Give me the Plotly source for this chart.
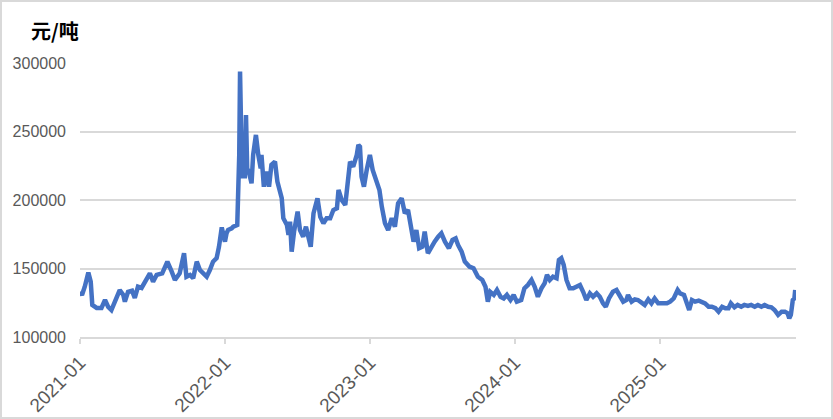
import plotly.graph_objects as go

dates = [
    "2021-01-01", "2021-01-06", "2021-01-13", "2021-01-22", "2021-01-28", "2021-02-01", "2021-02-12",
    "2021-02-24", "2021-03-05", "2021-03-13", "2021-03-21", "2021-03-30", "2021-04-11", "2021-04-20",
    "2021-04-24", "2021-05-02", "2021-05-12", "2021-05-19", "2021-05-27", "2021-06-05", "2021-06-13",
    "2021-06-26", "2021-07-04", "2021-07-13", "2021-07-27", "2021-08-09", "2021-08-20", "2021-08-28",
    "2021-09-09", "2021-09-20", "2021-09-26", "2021-10-05", "2021-10-13", "2021-10-22", "2021-10-30",
    "2021-11-07", "2021-11-16", "2021-11-24", "2021-12-02", "2021-12-11", "2021-12-17", "2021-12-24",
    "2021-12-28", "2022-01-01", "2022-01-05", "2022-01-09", "2022-01-18", "2022-01-22", "2022-02-01",
    "2022-02-06", "2022-02-08", "2022-02-10", "2022-02-13", "2022-02-16", "2022-02-20", "2022-02-23",
    "2022-02-26", "2022-03-03", "2022-03-09", "2022-03-13", "2022-03-20", "2022-03-26", "2022-04-01",
    "2022-04-03", "2022-04-09", "2022-04-16", "2022-04-22", "2022-04-28", "2022-05-07", "2022-05-13",
    "2022-05-20", "2022-05-24", "2022-05-28", "2022-06-06", "2022-06-10", "2022-06-14", "2022-06-18",
    "2022-06-24", "2022-07-03", "2022-07-09", "2022-07-17", "2022-07-24", "2022-07-30", "2022-08-05",
    "2022-08-12", "2022-08-22", "2022-08-29", "2022-09-06", "2022-09-14", "2022-09-23", "2022-10-01",
    "2022-10-10", "2022-10-14", "2022-10-22", "2022-10-31", "2022-11-08", "2022-11-12", "2022-11-20",
    "2022-11-29", "2022-12-03", "2022-12-07", "2022-12-11", "2022-12-17", "2022-12-24", "2023-01-01",
    "2023-01-08", "2023-01-16", "2023-01-25", "2023-01-31", "2023-02-08", "2023-02-16", "2023-02-25",
    "2023-03-05", "2023-03-13", "2023-03-22", "2023-03-30", "2023-04-07", "2023-04-16", "2023-04-21",
    "2023-04-28", "2023-05-05", "2023-05-13", "2023-05-19", "2023-05-27", "2023-06-05", "2023-06-13",
    "2023-06-22", "2023-06-30", "2023-07-09", "2023-07-19", "2023-07-28", "2023-08-05", "2023-08-11",
    "2023-08-20", "2023-08-28", "2023-09-09", "2023-09-19", "2023-09-30", "2023-10-11", "2023-10-19",
    "2023-10-25", "2023-10-31", "2023-11-09", "2023-11-17", "2023-11-26", "2023-12-04", "2023-12-12",
    "2023-12-21", "2023-12-29", "2024-01-06", "2024-01-17", "2024-01-25", "2024-02-03", "2024-02-12",
    "2024-02-20", "2024-02-28", "2024-03-08", "2024-03-16", "2024-03-22", "2024-03-29", "2024-04-06",
    "2024-04-15", "2024-04-21", "2024-04-27", "2024-05-03", "2024-05-10", "2024-05-18", "2024-05-27",
    "2024-06-04", "2024-06-13", "2024-06-21", "2024-06-29", "2024-07-08", "2024-07-16", "2024-07-25",
    "2024-08-02", "2024-08-10", "2024-08-17", "2024-08-25", "2024-09-04", "2024-09-13", "2024-09-21",
    "2024-09-30", "2024-10-08", "2024-10-12", "2024-10-21", "2024-10-29", "2024-11-06", "2024-11-15",
    "2024-11-23", "2024-12-02", "2024-12-10", "2024-12-18", "2024-12-27", "2025-01-01", "2025-01-09",
    "2025-01-18", "2025-01-26", "2025-02-04", "2025-02-14", "2025-02-20", "2025-03-02", "2025-03-09",
    "2025-03-15", "2025-03-22", "2025-03-30", "2025-04-08", "2025-04-16", "2025-04-24", "2025-05-03",
    "2025-05-11", "2025-05-20", "2025-05-28", "2025-06-06", "2025-06-14", "2025-06-22", "2025-06-28",
    "2025-07-07", "2025-07-15", "2025-07-24", "2025-08-01", "2025-08-10", "2025-08-18", "2025-08-27",
    "2025-09-04", "2025-09-13", "2025-09-21", "2025-09-30", "2025-10-08", "2025-10-16", "2025-10-25",
    "2025-11-03", "2025-11-11", "2025-11-18", "2025-11-22", "2025-11-26", "2025-12-01", "2025-12-05",
    "2025-12-07",
]

prices = [
    133000, 130700, 136700, 147000, 140400, 123400, 121200,
    121200, 127000, 121900, 119700, 125800, 134300, 130700,
    125800, 133000, 133800, 128500, 136700, 135800, 140400,
    146500, 140400, 145300, 146500, 155000, 147700, 141600,
    146500, 161100, 144000, 145300, 142900, 155000, 148900,
    146500, 144000, 148900, 155000, 157500, 165900, 180000,
    172000, 169600, 175700, 178100, 179300, 180500, 181800,
    232900, 293700, 245000, 215800, 225600, 215800, 262000,
    223100, 219500, 212200, 232900, 247500, 232900, 223100,
    232900, 209700, 220700, 209700, 225600, 228000, 213400,
    204900, 201300, 186700, 181800, 174500, 184200, 162300,
    176900, 191500, 178000, 173200, 180500, 173200, 165900,
    190300, 201300, 187800, 183000, 186700, 186700, 192700,
    194000, 207300, 200000, 196400, 214600, 228000, 224300,
    232900, 240200, 238900, 217000, 209700, 221900, 232900,
    221900, 214600, 207300, 195100, 183000, 178100, 186700,
    180500, 197600, 201300, 190300, 192700, 178100, 169600,
    178100, 164800, 165900, 176900, 161100, 165900, 169600,
    173200, 175700, 169600, 164800, 170800, 172000, 167200,
    162300, 155000, 151300, 150200, 144000, 141600, 136700,
    125800, 133000, 130700, 134300, 129400, 128200, 130700,
    127000, 130700, 125800, 127000, 135500, 138000, 141600,
    136700, 129400, 135500, 139200, 145300, 141600, 144000,
    142900, 156200, 157500, 152600, 141600, 135500, 135500,
    136700, 138000, 133000, 127000, 131900, 129400, 131900,
    129400, 124600, 122100, 128200, 133000, 134300, 130700,
    125800, 127000, 130700, 125800, 127500, 127000, 125000,
    123400, 127500, 124600, 128200, 124600, 124600, 124600,
    124600, 125800, 128200, 134300, 131900, 130700, 125800,
    119700, 127000, 125800, 126500, 125800, 124600, 122100,
    122100, 121000, 118500, 122100, 121000, 121000, 124600,
    121700, 123400, 122100, 123400, 122700, 123400, 122100,
    123400, 122100, 123400, 122100, 121700, 119700, 116100,
    118500, 118500, 117300, 113700, 116100, 127000, 128200,
    134300,
]

y_ticks = [100000, 150000, 200000, 250000, 300000]
x_tick_dates = ["2021-01-01", "2022-01-01", "2023-01-01", "2024-01-01", "2025-01-01"]
x_tick_labels = ["2021-01", "2022-01", "2023-01", "2024-01", "2025-01"]
unit_label = "元/吨"

W, H = 833, 419
ml, mr, mt, mb = 80, 37, 63, 82
PW, PH = W - ml - mr, H - mt - mb

fig = go.Figure(
    go.Scatter(
        x=dates, y=prices, mode="lines",
        line=dict(color="#4472C4", width=4.5),
        hoverinfo="x+y", showlegend=False,
    )
)

grey = "#d9d9d9"
tick_font = dict(family="Liberation Sans, Arial, sans-serif", size=16, color="#595959")
xtick_font = dict(family="Liberation Sans, Arial, sans-serif", size=19, color="#595959")

fig.update_layout(
    width=W, height=H,
    margin=dict(l=ml, r=mr, t=mt, b=mb, autoexpand=False),
    paper_bgcolor="white", plot_bgcolor="white",
    xaxis=dict(
        type="date",
        range=["2021-01-01", "2025-12-09"],
        tickvals=x_tick_dates, ticktext=x_tick_labels,
        tickangle=-45, tickfont=xtick_font,
        showgrid=False, zeroline=False,
        showline=True, linecolor=grey, linewidth=2,
        ticks="outside", tickcolor=grey, ticklen=5, tickwidth=2,
    ),
    yaxis=dict(
        range=[100000, 300000],
        tickvals=y_ticks, tickformat="d",
        tickfont=tick_font,
        showgrid=True, gridcolor=grey, gridwidth=1.5,
        zeroline=False, showline=False, ticks="",
        ticklabelstandoff=13,
    ),
    annotations=[
        dict(
            text="<b>" + unit_label + "</b>", xref="paper", yref="paper",
            x=-(ml - 29) / PW, y=1 + (mt - 31) / PH,
            xanchor="left", yanchor="middle", showarrow=False,
            font=dict(family="Noto Sans CJK SC", size=20, color="#000000"),
        )
    ],
    shapes=[
        dict(
            type="rect", xref="paper", yref="paper",
            x0=-(ml - 1) / PW, x1=1 + (mr - 1) / PW,
            y0=-(mb - 1) / PH, y1=1 + (mt - 1) / PH,
            line=dict(color=grey, width=2), layer="below",
        )
    ],
)

fig.write_html(
    "out.html",
    config={"displayModeBar": False},
    post_script="document.body.style.margin='0';document.body.style.overflow='hidden';",
)
